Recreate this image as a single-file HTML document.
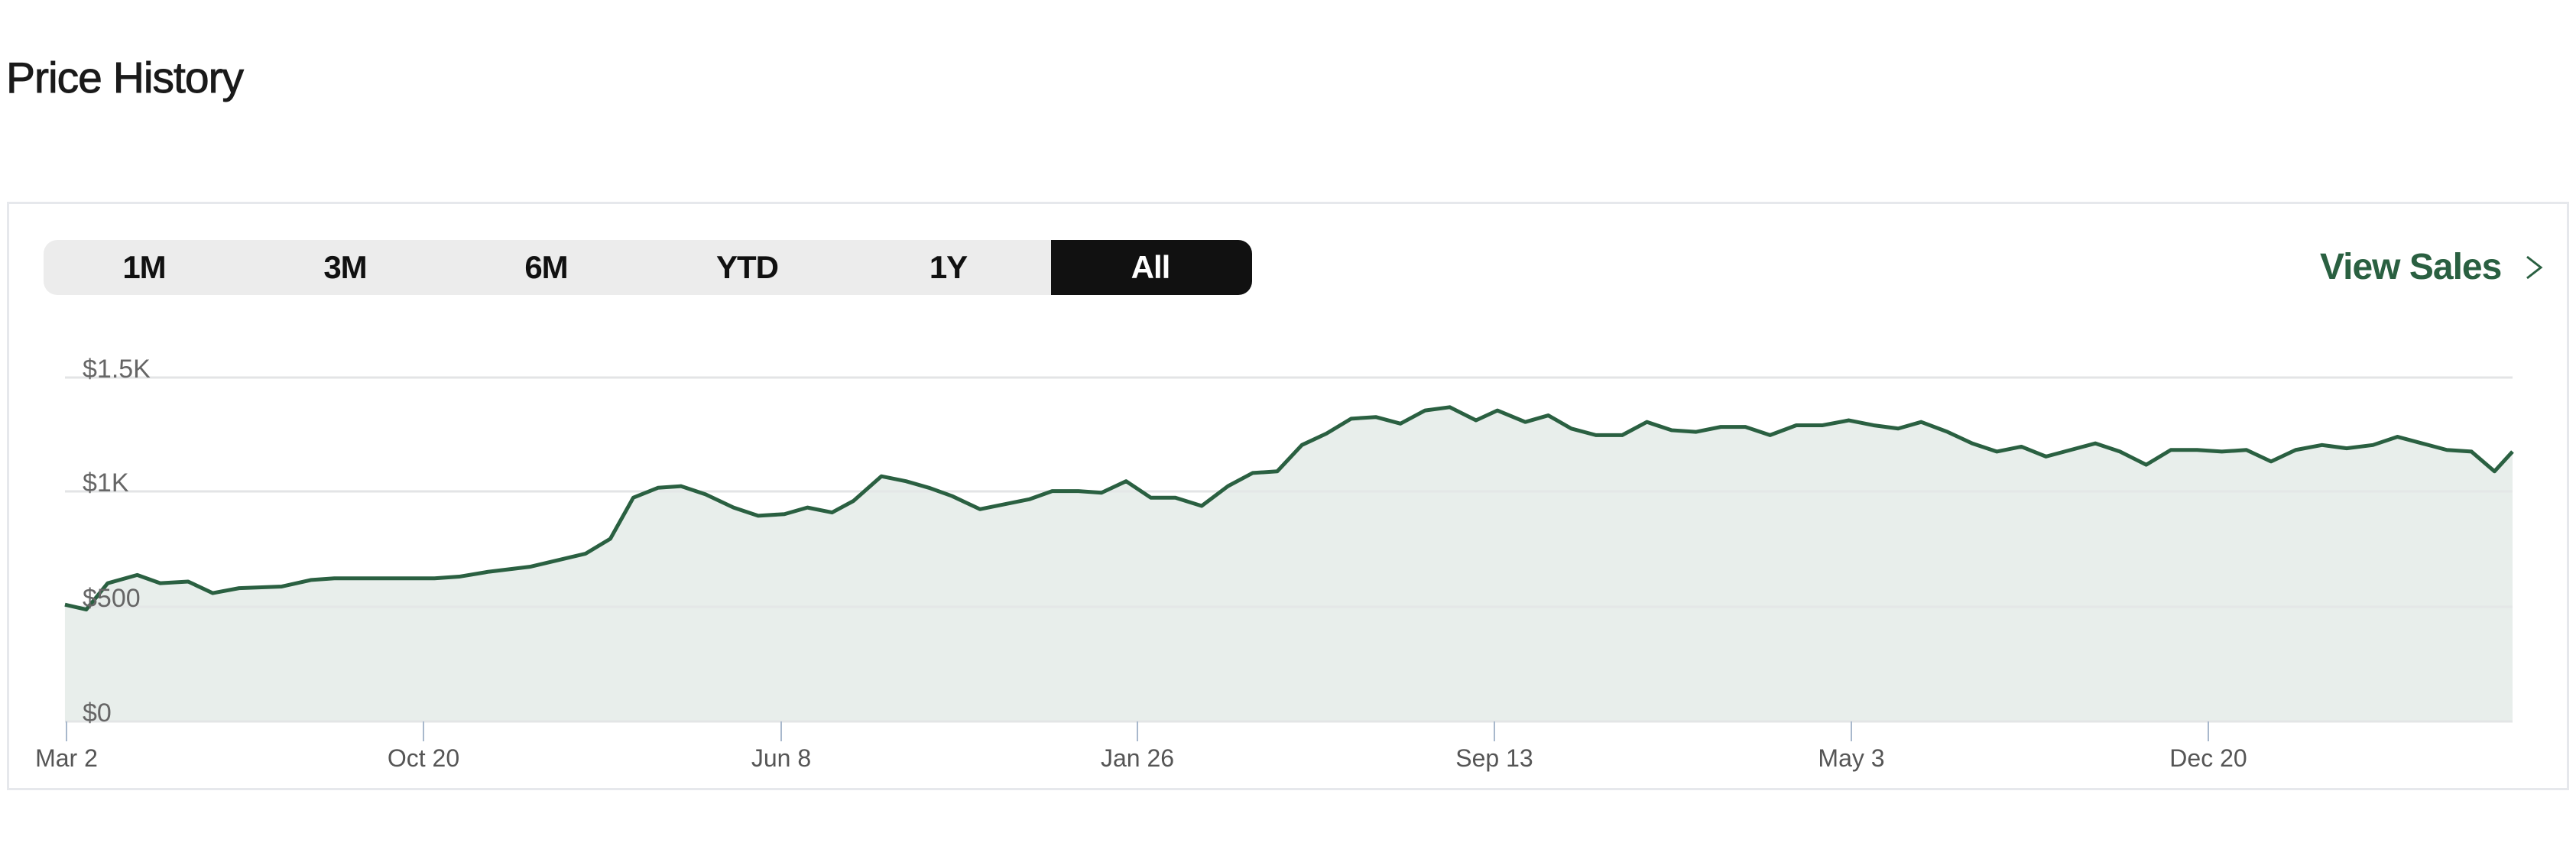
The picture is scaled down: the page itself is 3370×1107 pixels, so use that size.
<!DOCTYPE html>
<html><head><meta charset="utf-8"><style>
html,body{margin:0;padding:0;background:#fff;width:3370px;height:1107px;overflow:hidden;font-family:"Liberation Sans",sans-serif}
.abs{position:absolute}
</style></head><body>
<div class="abs" style="left:8px;top:70px;font-size:57px;color:#1a1a1a;line-height:64px;letter-spacing:-1px;-webkit-text-stroke:0.9px #1a1a1a">Price History</div>
<div class="abs" style="left:9px;top:264px;width:3352px;height:770px;border:3px solid #e6e8ec;box-sizing:border-box"></div>
<div class="abs" style="left:57px;top:314px;width:1581px;height:72px;background:#ececec;border-radius:18px"></div>
<div class="abs" style="left:1375px;top:314px;width:263px;height:72px;background:#111;border-radius:0 18px 18px 0"></div>
<div class="abs" style="top:314px;left:57px;width:1581px;height:72px;display:flex;font-size:42px;font-weight:bold;line-height:72px;letter-spacing:-1px">
<div style="width:263px;text-align:center;color:#111">1M</div>
<div style="width:263px;text-align:center;color:#111">3M</div>
<div style="width:263px;text-align:center;color:#111">6M</div>
<div style="width:263px;text-align:center;color:#111">YTD</div>
<div style="width:263px;text-align:center;color:#111">1Y</div>
<div style="width:266px;text-align:center;color:#fff">All</div>
</div>
<div class="abs" style="left:3035px;top:318px;font-size:48px;font-weight:bold;color:#2a6041;line-height:64px;letter-spacing:-1px">View Sales</div>
<svg class="abs" style="left:0;top:0" width="3370" height="1107">
<polyline points="3306,336 3324,350 3306,364" fill="none" stroke="#2a6041" stroke-width="3"/>
<g stroke="#e3e4e6" stroke-width="3">
<line x1="85" x2="3287" y1="494" y2="494"/><line x1="85" x2="3287" y1="643" y2="643"/>
<line x1="85" x2="3287" y1="794" y2="794"/><line x1="85" x2="3287" y1="944" y2="944"/>
</g>
<g transform="translate(-1,1) scale(2.149,2.153)">
<path vector-effect="non-scaling-stroke" fill="#e8eeeb" stroke="none" d="M40,367 L53,370 66,354 84,349 98,354 115,353 130,360 146,357 172,356 190,352 204,351 218,351 245,351 265,351 280,350 298,347 323,344 340,340 357,336 372,327 386,302 401,296 415,295 430,300 447,308 462,313 478,312 492,308 507,311 520,304 537,289 552,292 566,296 580,301 597,309 612,306 627,303 641,298 657,298 671,299 686,292 701,302 716,302 732,307 748,295 763,287 778,286 793,270 808,263 823,254 838,253 853,257 868,249 883,247 899,255 912,249 929,256 943,252 957,260 972,264 988,264 1003,256 1018,261 1033,262 1048,259 1063,259 1078,264 1094,258 1110,258 1126,255 1141,258 1156,260 1170,256 1186,262 1201,269 1216,274 1231,271 1246,277 1261,273 1276,269 1291,274 1307,282 1322,273 1338,273 1353,274 1368,273 1383,280 1398,273 1414,270 1429,272 1445,270 1460,265 1475,269 1490,273 1505,274 1519,286 1530,274 L1530,438 L40,438 Z"/>
</g>
<g stroke="#e3e4e6" stroke-width="3" opacity="0.6">
<line x1="85" x2="3287" y1="643" y2="643"/><line x1="85" x2="3287" y1="794" y2="794"/><line x1="85" x2="3287" y1="944" y2="944"/>
</g>
<g transform="translate(-1,1) scale(2.149,2.153)">
<polyline vector-effect="non-scaling-stroke" fill="none" stroke="#2a6041" stroke-width="5" stroke-linejoin="round" points="40,367 53,370 66,354 84,349 98,354 115,353 130,360 146,357 172,356 190,352 204,351 218,351 245,351 265,351 280,350 298,347 323,344 340,340 357,336 372,327 386,302 401,296 415,295 430,300 447,308 462,313 478,312 492,308 507,311 520,304 537,289 552,292 566,296 580,301 597,309 612,306 627,303 641,298 657,298 671,299 686,292 701,302 716,302 732,307 748,295 763,287 778,286 793,270 808,263 823,254 838,253 853,257 868,249 883,247 899,255 912,249 929,256 943,252 957,260 972,264 988,264 1003,256 1018,261 1033,262 1048,259 1063,259 1078,264 1094,258 1110,258 1126,255 1141,258 1156,260 1170,256 1186,262 1201,269 1216,274 1231,271 1246,277 1261,273 1276,269 1291,274 1307,282 1322,273 1338,273 1353,274 1368,273 1383,280 1398,273 1414,270 1429,272 1445,270 1460,265 1475,269 1490,273 1505,274 1519,286 1530,274"/>
</g>
<g fill="#666" font-family="Liberation Sans, sans-serif" font-size="34">
<text x="108" y="494">$1.5K</text><text x="108" y="643">$1K</text><text x="108" y="794">$500</text><text x="108" y="944">$0</text>
</g>
<g stroke="#a8b8cc" stroke-width="2">
<line x1="87" x2="87" y1="944" y2="970"/><line x1="554" x2="554" y1="944" y2="970"/><line x1="1022" x2="1022" y1="944" y2="970"/><line x1="1488" x2="1488" y1="944" y2="970"/><line x1="1955" x2="1955" y1="944" y2="970"/><line x1="2422" x2="2422" y1="944" y2="970"/><line x1="2889" x2="2889" y1="944" y2="970"/>
</g>
<g fill="#555" font-family="Liberation Sans, sans-serif" font-size="32" text-anchor="middle">
<text x="87" y="1003">Mar 2</text><text x="554" y="1003">Oct 20</text><text x="1022" y="1003">Jun 8</text><text x="1488" y="1003">Jan 26</text><text x="1955" y="1003">Sep 13</text><text x="2422" y="1003">May 3</text><text x="2889" y="1003">Dec 20</text>
</g>
</svg>
</body></html>
